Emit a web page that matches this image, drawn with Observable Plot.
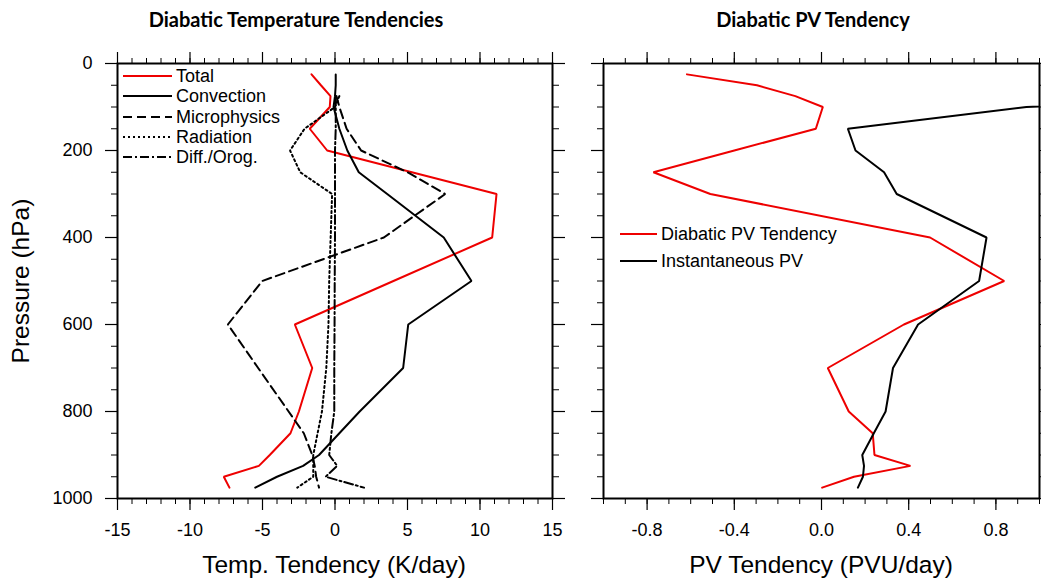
<!DOCTYPE html>
<html><head><meta charset="utf-8">
<script src="https://cdn.jsdelivr.net/npm/d3@7"></script>
<script src="https://cdn.jsdelivr.net/npm/@observablehq/plot@0.6"></script>
<style>
body{margin:0;background:#fff;}
#wrap{position:relative;width:1041px;height:581px;overflow:hidden;font-family:"Liberation Sans",Arial,sans-serif;color:#000;}
.abs{position:absolute;white-space:nowrap;line-height:1;}
.plot{position:absolute;top:0;}
.title{font-family:Lato,"Open Sans",sans-serif;font-weight:bold;font-size:20px;}
.axlab{font-size:24.5px;}
.leg{font-size:18px;}
</style></head><body><div id="wrap"></div>
<script>
// ---------- data ----------
const levels = [25, 50, 75, 100, 150, 200, 250, 300, 400, 500, 600, 700, 800, 850, 900, 925, 950, 975];

// Left panel: temperature tendencies (K/day)
const totalT      = [-1.62, -0.97, -0.31, -0.36, -1.74, -0.54, 5.3, 11.14, 10.84, 4.03, -2.77, -1.57, -2.49, -3.07, -4.5, -5.25, -7.67, -7.28];
const convectionT = [0.05, 0.05, 0.0, -0.1, 0.3, 0.85, 1.64, 3.6, 7.5, 9.41, 5.05, 4.7, 1.7, 0.3, -1.1, -2.2, -4.0, -5.5];
const microT      = [null, null, 0.1, 0.3, 0.8, 1.8, 5.0, 7.6, 3.37, -5.02, -7.39, -5.3, -3.2, -2.15, -1.57, -1.4, -1.3, -1.1];
const radiationT  = [null, null, 0.3, 0.0, -2.1, -3.1, -2.4, -0.2, -0.3, -0.4, -0.45, -0.6, -0.9, -1.2, -1.5, -1.5, -1.5, -2.6];
const diffOrogT   = [null, null, 0.05, 0.05, 0.05, 0.0, 0.0, 0.0, 0.0, -0.02, -0.03, -0.05, -0.05, -0.25, -0.4, 0.15, -0.65, 2.0];

// Right panel: PV (PVU/day and PVU)
const pvTendency  = [-0.617, -0.296, -0.12, 0.006, -0.026, -0.40, -0.771, -0.51, 0.498, 0.838, 0.378, 0.029, 0.125, 0.235, 0.243, 0.408, 0.149, 0.003];
const instPV      = [null, null, 2.5, 0.94, 0.121, 0.156, 0.287, 0.345, 0.757, 0.723, 0.443, 0.328, 0.294, 0.24, 0.187, 0.195, 0.19, 0.167];

const leftSeries  = ["Total", "Convection", "Microphysics", "Radiation", "Diff./Orog."];
const rightSeries = ["Diabatic PV Tendency", "Instantaneous PV"];

const leftTicks   = [-15, -10, -5, 0, 5, 10, 15];
const rightTicks  = [-0.8, -0.4, 0.0, 0.4, 0.8];
const yTicks      = [0, 200, 400, 600, 800, 1000];

const titles  = ["Diabatic Temperature Tendencies", "Diabatic PV Tendency"];
const xLabels = ["Temp. Tendency (K/day)", "PV Tendency (PVU/day)"];
const yLabel  = "Pressure (hPa)";

// ---------- build ----------
const rows = (vals) => levels.map((p, i) => ({p, v: vals[i]})).filter(d => d.v != null);
const leftVals = [totalT, convectionT, microT, radiationT, diffOrogT];
const leftStyle = [
  {stroke: "#ee0000", dash: null},
  {stroke: "#000", dash: null},
  {stroke: "#000", dash: "9,5"},
  {stroke: "#000", dash: "2,3"},
  {stroke: "#000", dash: "9,3,2,3"}
];
const rightVals = [pvTendency, instPV];
const rightStyle = [{stroke: "#ee0000", dash: null}, {stroke: "#000", dash: null}];

const range = (a, b, s) => d3.range(Math.round(a / s), Math.round(b / s) + 1).map(k => +(k * s).toFixed(6));
const blank = () => "";

function axes(xMajor, xMinor, fmt, showY) {
  const common = {stroke: "#000", fill: "#000", label: null};
  const yMinor = range(0, 1000, 50);
  return [
    Plot.axisX({...common, anchor: "bottom", ticks: xMinor, tickSize: 6, tickFormat: blank}),
    Plot.axisX({...common, anchor: "bottom", ticks: xMajor, tickSize: 12, tickPadding: 13, tickFormat: fmt, strokeWidth: 1.2}),
    Plot.axisX({...common, anchor: "top", ticks: xMinor, tickSize: 6, tickFormat: blank}),
    Plot.axisX({...common, anchor: "top", ticks: xMajor, tickSize: 12, tickFormat: blank, strokeWidth: 1.2}),
    Plot.axisY({...common, anchor: "left", ticks: yMinor, tickSize: 6, tickFormat: blank}),
    Plot.axisY({...common, anchor: "left", ticks: yTicks, tickSize: 12, tickPadding: 13, tickFormat: showY ? (d => String(d)) : blank, strokeWidth: 1.2}),
    Plot.axisY({...common, anchor: "right", ticks: yMinor, tickSize: 6, tickFormat: blank}),
    Plot.axisY({...common, anchor: "right", ticks: yTicks, tickSize: 12, tickFormat: blank, strokeWidth: 1.2})
  ];
}

const styleObj = {fontFamily: '"Liberation Sans", Arial, sans-serif', fontSize: "18px", color: "#000", background: "transparent", overflow: "visible"};

const left = Plot.plot({
  width: 575, height: 581,
  marginLeft: 117, marginRight: 23, marginTop: 63, marginBottom: 83,
  style: styleObj,
  x: {domain: [-15, 15]},
  y: {domain: [0, 1000], reverse: true},
  marks: [
    ...axes(leftTicks, range(-15, 15, 1), d => String(d), true),
    ...leftVals.map((vals, i) => Plot.line(rows(vals), {x: "v", y: "p", stroke: leftStyle[i].stroke, strokeWidth: 2, strokeDasharray: leftStyle[i].dash, strokeLinejoin: "miter"})),
    Plot.frame({stroke: "#000", strokeWidth: 2})
  ]
});
left.classList.add("plot");
left.style.left = "0px";

const right = Plot.plot({
  width: 466, height: 581,
  marginLeft: 28, marginRight: 2, marginTop: 63, marginBottom: 83,
  style: styleObj,
  x: {domain: [-1, 1]},
  y: {domain: [0, 1000], reverse: true},
  marks: [
    ...axes(rightTicks, range(-1, 1, 0.1), d => d.toFixed(1), false),
    ...rightVals.map((vals, i) => Plot.line(rows(vals), {x: "v", y: "p", stroke: rightStyle[i].stroke, strokeWidth: 2, clip: true, strokeLinejoin: "miter"})),
    Plot.frame({stroke: "#000", strokeWidth: 2})
  ]
});
right.classList.add("plot");
right.style.left = "575px";

const wrap = document.getElementById("wrap");
wrap.appendChild(left);
wrap.appendChild(right);

function addText(txt, cls, x, y, rot) {
  const d = document.createElement("div");
  d.className = "abs " + cls;
  d.textContent = txt;
  d.style.left = x + "px";
  d.style.top = y + "px";
  d.style.transform = "translate(-50%,-50%)" + (rot ? " rotate(" + rot + "deg)" : "");
  wrap.appendChild(d);
}
addText(titles[0], "title", 296, 19);
addText(titles[1], "title", 813, 19);
addText(xLabels[0], "axlab", 334, 565);
addText(xLabels[1], "axlab", 821, 565);
addText(yLabel, "axlab", 21, 281, -90);

function legend(names, styles, x0, y0, dy, lineLen) {
  names.forEach((name, i) => {
    const y = y0 + i * dy;
    const svg = d3.create("svg").attr("width", lineLen + 2).attr("height", 6)
      .style("position", "absolute").style("left", (x0 - 1) + "px").style("top", (y - 3) + "px");
    svg.append("line").attr("x1", 1).attr("x2", lineLen + 1).attr("y1", 3).attr("y2", 3)
      .attr("stroke", styles[i].stroke).attr("stroke-width", 2.2)
      .attr("stroke-dasharray", styles[i].dash);
    wrap.appendChild(svg.node());
    const t = document.createElement("div");
    t.className = "abs leg";
    t.textContent = name;
    t.style.left = (x0 + lineLen + 4) + "px";
    t.style.top = y + "px";
    t.style.transform = "translateY(-50%)";
    wrap.appendChild(t);
  });
}
legend(leftSeries, leftStyle, 123, 76, 20.3, 49);
legend(rightSeries, rightStyle, 620, 234, 26.7, 37);
</script></body></html>
